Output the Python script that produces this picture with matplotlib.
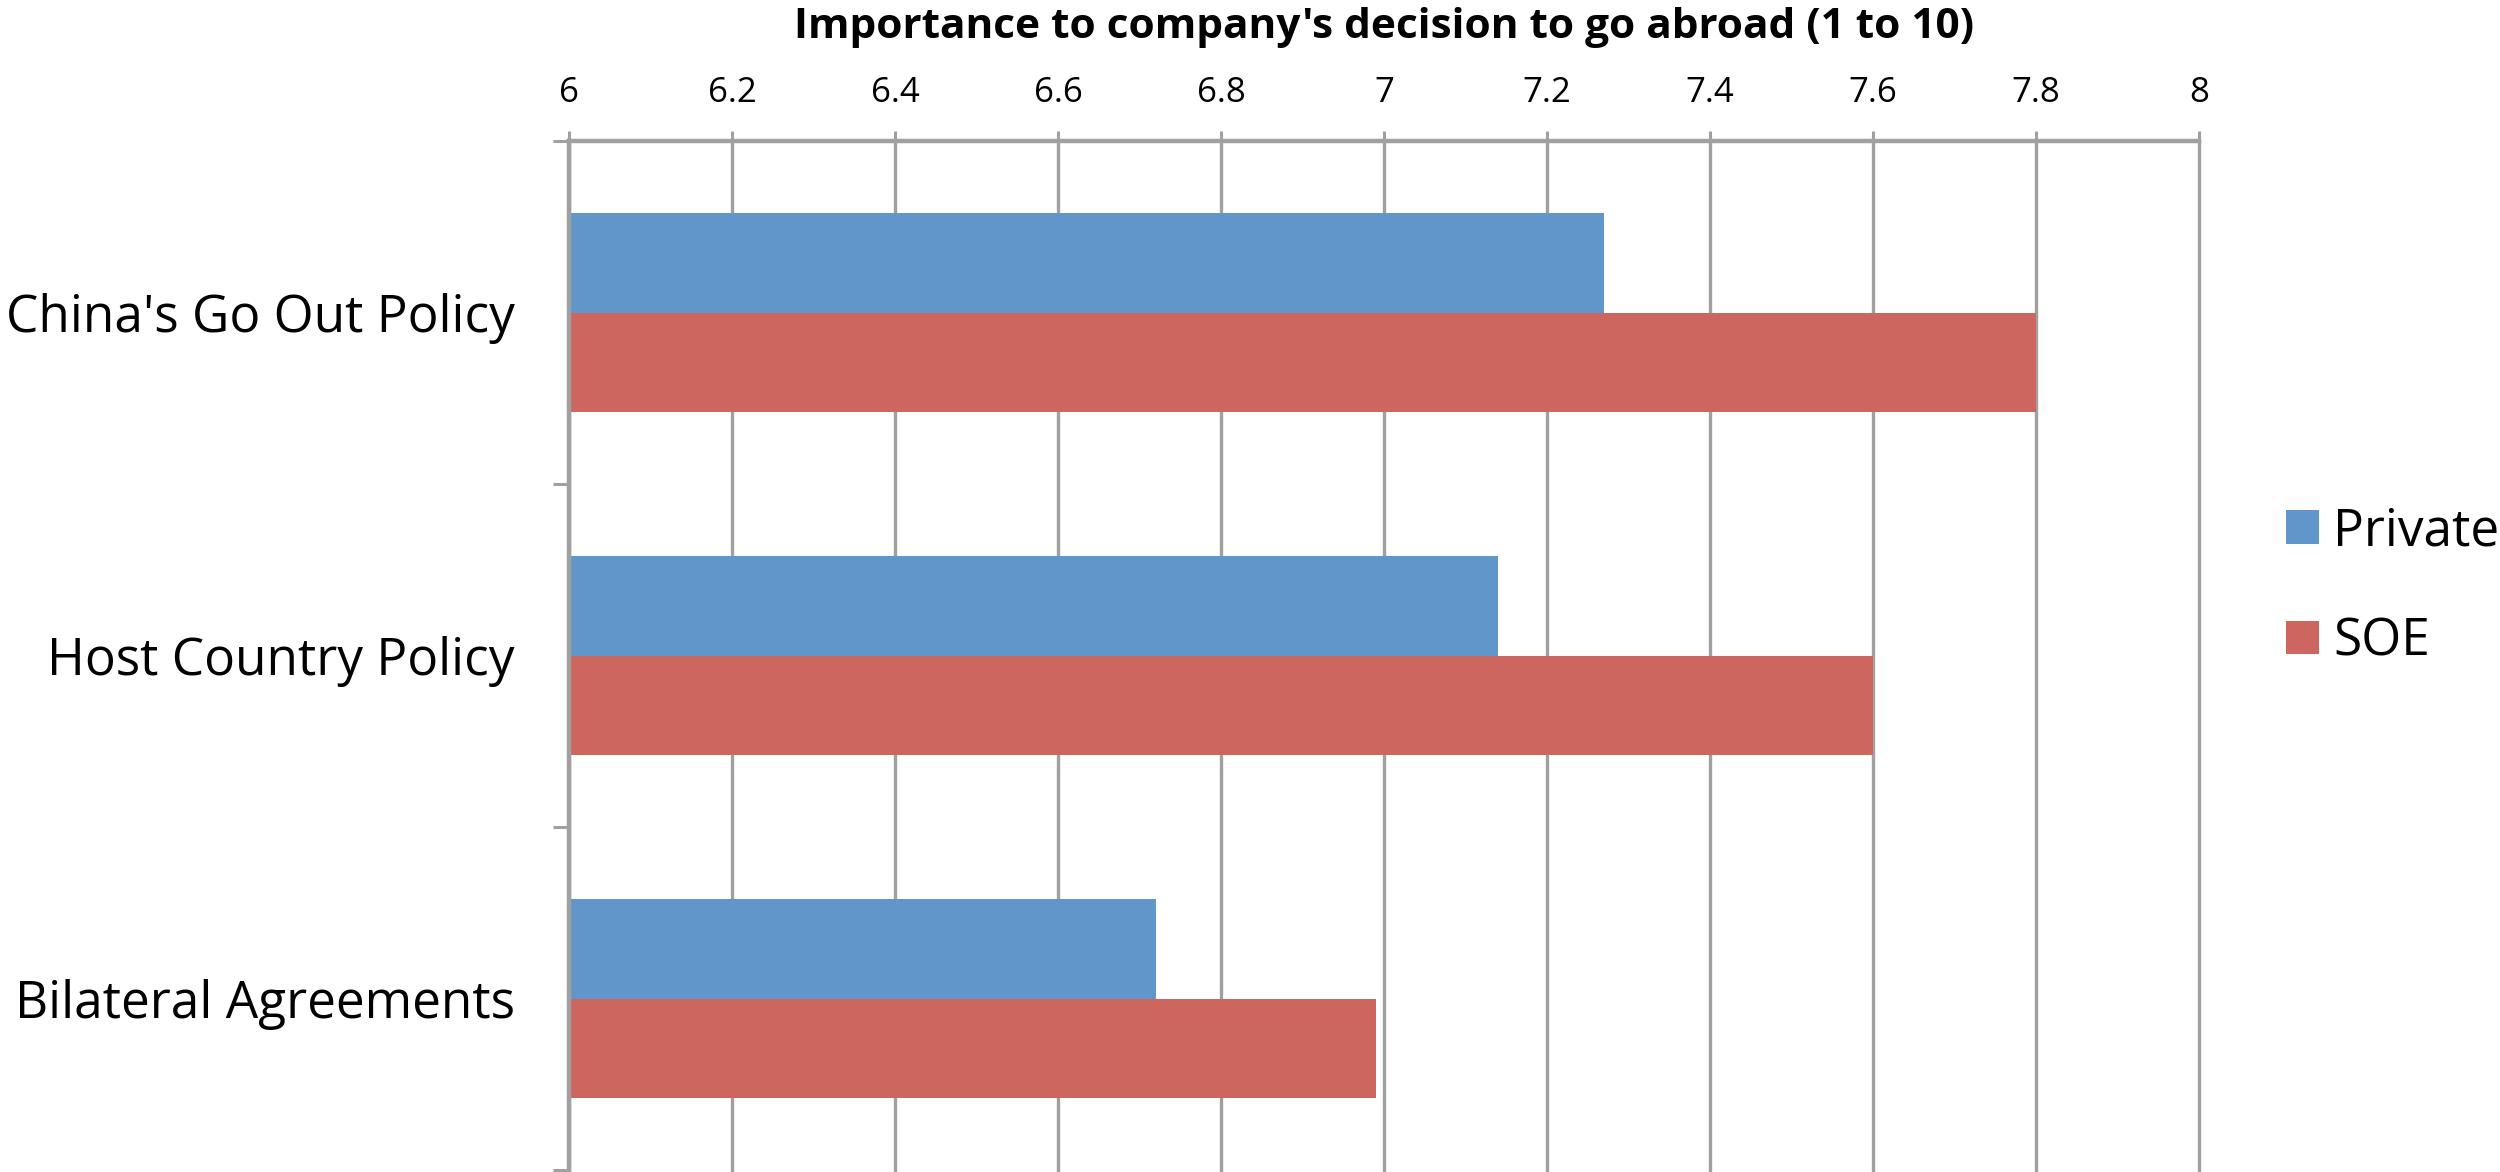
import matplotlib
matplotlib.use("Agg")
import matplotlib.pyplot as plt
from matplotlib.patches import Patch
import numpy as np

# data
categories = ["China's Go Out Policy", "Host Country Policy", "Bilateral Agreements"]
private = [7.27, 7.14, 6.72]
soe = [7.80, 7.60, 6.99]
xticks = [6, 6.2, 6.4, 6.6, 6.8, 7, 7.2, 7.4, 7.6, 7.8, 8]
xlabels = ["6", "6.2", "6.4", "6.6", "6.8", "7", "7.2", "7.4", "7.6", "7.8", "8"]

BLUE = "#6096C9"
RED = "#CC665F"
GRID = "#A0A0A0"

plt.rcParams['font.family'] = ['Open Sans', 'DejaVu Sans']

fig = plt.figure(figsize=(25, 11.72), dpi=100)
ax = fig.add_axes([569 / 2500, 2 / 1172, (2199 - 569) / 2500, (1170 - 141) / 1172])

y = np.arange(len(categories))
h = 0.29
ax.barh(y - h / 2, [p - 6 for p in private], left=6, height=h, color=BLUE, zorder=3)
ax.barh(y + h / 2, [s - 6 for s in soe], left=6, height=h, color=RED, zorder=3)

ax.set_xlim(6, 8)
ax.set_ylim(2.5, -0.5)

ax.xaxis.tick_top()
ax.set_xticks(xticks)
ax.set_xticklabels(xlabels, fontsize=25)
ax.tick_params(axis='x', direction='out', length=7, width=2.2, color=GRID, pad=15)
ax.grid(axis='x', color=GRID, linewidth=2.4, zorder=1)
for gl in ax.get_xgridlines():
    gl.set_clip_on(False)

ax.set_yticks(y)
ax.set_yticklabels(categories, fontsize=37)
ax.tick_params(axis='y', which='major', length=0, pad=39)
ax.set_yticks([-0.5, 0.5, 1.5, 2.5], minor=True)
ax.tick_params(axis='y', which='minor', direction='out', length=11.5, width=2.2, color=GRID)

for side in ['right', 'bottom']:
    ax.spines[side].set_visible(False)
for side in ['top', 'left']:
    ax.spines[side].set_color(GRID)
    ax.spines[side].set_linewidth(3.2)
    ax.spines[side].set_zorder(4)

fig.text(1384 / 2500, 1 - 38 / 1172, "Importance to company's decision to go abroad (1 to 10)",
         ha='center', va='baseline', fontsize=30.5, fontweight='bold')

handles = [Patch(facecolor=BLUE, label='Private'), Patch(facecolor=RED, label='SOE')]
fig.legend(handles=handles, loc='center left', bbox_to_anchor=(2286 / 2500, 1 - 587 / 1172),
           frameon=False, fontsize=37, handlelength=0.64, handleheight=0.64,
           handletextpad=0.28, labelspacing=1.15, borderpad=0, borderaxespad=0)

fig.savefig("out.png", dpi=100)
